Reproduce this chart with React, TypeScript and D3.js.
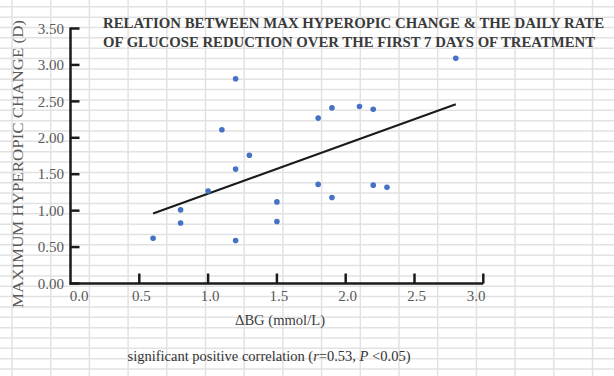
import React, { useLayoutEffect, useRef, useState } from "react";
import * as d3 from "d3";

const xVals = [0.6, 0.8, 0.8, 1.0, 1.1, 1.2, 1.2, 1.2, 1.3, 1.5, 1.5, 1.8, 1.8, 1.9, 1.9, 2.1, 2.2, 2.2, 2.3, 2.8];
const yVals = [0.62, 1.01, 0.83, 1.27, 2.11, 2.81, 1.57, 0.59, 1.76, 1.12, 0.85, 2.27, 1.36, 2.41, 1.18, 2.43, 2.39, 1.35, 1.32, 3.09];
const trendX = [0.6, 2.8];
const trendY = [0.96, 2.46];
const xTicks = [0, 0.5, 1.0, 1.5, 2.0, 2.5, 3.0];
const yTicks = [0, 0.5, 1.0, 1.5, 2.0, 2.5, 3.0, 3.5];
const titleLines = [
  "RELATION BETWEEN MAX HYPEROPIC CHANGE & THE DAILY RATE",
  "OF GLUCOSE REDUCTION OVER THE FIRST 7 DAYS OF TREATMENT",
];
const yLabel = "MAXIMUM HYPEROPIC CHANGE (D)";
const xLabel = "\u0394BG (mmol/L)";

const W = 614;
const H = 376;
const FONT = "'Liberation Serif', 'DejaVu Serif', serif";
const titleWidths = [501, 492];

export default function App() {
  const x = d3.scaleLinear().domain([0, 3]).range([70.5, 483.3]);
  const y = d3.scaleLinear().domain([0, 3.5]).range([283.5, 28.5]);
  const line = d3
    .line<number>()
    .x((_, i) => x(trendX[i]))
    .y((d) => y(d));

  const vGrid = d3.range(12, W, 38.7);
  const hGrid = d3.range(6.8, H, 10.35);

  const titleRefs = useRef<(SVGTextElement | null)[]>([]);
  const [scales, setScales] = useState<number[]>([0.9, 0.9]);
  useLayoutEffect(() => {
    const s = titleRefs.current.map((el, i) => {
      if (!el) return 0.9;
      const len = el.getComputedTextLength();
      return len > 0 ? titleWidths[i] / len : 0.9;
    });
    setScales(s);
  }, []);

  return (
    <svg
      width={W}
      height={H}
      style={{ position: "absolute", left: 0, top: 0, background: "#fff" }}
      fontFamily={FONT}
    >
      <rect x={0} y={0} width={W} height={H} fill="#fff" />
      {hGrid.map((g, i) => (
        <line key={"h" + i} x1={0} x2={W} y1={g} y2={g} stroke="#e2e2e2" strokeWidth={1.5} />
      ))}
      {vGrid.map((g, i) => (
        <line key={"v" + i} x1={g} x2={g} y1={0} y2={H} stroke="#e2e2e2" strokeWidth={1.5} />
      ))}

      {/* title */}
      {titleLines.map((t, i) => (
        <text
          key={"t" + i}
          ref={(el) => {
            titleRefs.current[i] = el;
          }}
          transform={`translate(103,${27.5 + i * 19}) scale(${scales[i]},1)`}
          fontSize={15.5}
          fontWeight="bold"
          fill="#3a3a3a"
        >
          {t}
        </text>
      ))}

      {/* axes */}
      <line x1={x(0)} x2={x(0)} y1={y(3.5) - 1} y2={y(0) + 1} stroke="#1a1a1a" strokeWidth={2.5} />
      <line x1={x(0) - 1} x2={x(3)} y1={y(0)} y2={y(0)} stroke="#1a1a1a" strokeWidth={2.5} />
      {yTicks.map((t) => (
        <g key={"yt" + t}>
          <line x1={x(0)} x2={x(0) + 9} y1={y(t)} y2={y(t)} stroke="#1a1a1a" strokeWidth={2.5} />
          <text
            x={64}
            y={y(t)}
            dy="0.35em"
            textAnchor="end"
            fontSize={15}
            fill="#595959"
          >
            {t.toFixed(2)}
          </text>
        </g>
      ))}
      {xTicks.map((t) => (
        <g key={"xt" + t}>
          {t > 0 && (
            <line x1={x(t)} x2={x(t)} y1={y(0)} y2={y(0) - 10} stroke="#1a1a1a" strokeWidth={2.5} />
          )}
          <text
            x={Math.min(Math.max(x(t) + 2, 79), 476)}
            y={301}
            textAnchor="middle"
            fontSize={15}
            fill="#595959"
          >
            {t.toFixed(1)}
          </text>
        </g>
      ))}

      {/* trend line */}
      <path d={line(trendY) || ""} fill="none" stroke="#1a1a1a" strokeWidth={2} />

      {/* points */}
      {xVals.map((v, i) => (
        <circle key={"p" + i} cx={x(v)} cy={y(yVals[i])} r={2.8} fill="#4472C4" />
      ))}

      {/* axis labels */}
      <text
        transform={`translate(23,164) rotate(-90)`}
        textAnchor="middle"
        fontSize={14}
        fill="#595959"
        textLength={288}
        lengthAdjust="spacingAndGlyphs"
      >
        {yLabel}
      </text>
      <text
        x={280}
        y={325}
        textAnchor="middle"
        fontSize={14}
        fill="#404040"
        textLength={90}
        lengthAdjust="spacingAndGlyphs"
      >
        {xLabel}
      </text>
      <text
        x={269}
        y={361}
        textAnchor="middle"
        fontSize={14}
        fill="#333"
        textLength={283}
        lengthAdjust="spacingAndGlyphs"
      >
        significant positive correlation (
        <tspan fontStyle="italic">r</tspan>=0.53, <tspan fontStyle="italic">P</tspan> &lt;0.05)
      </text>
    </svg>
  );
}
